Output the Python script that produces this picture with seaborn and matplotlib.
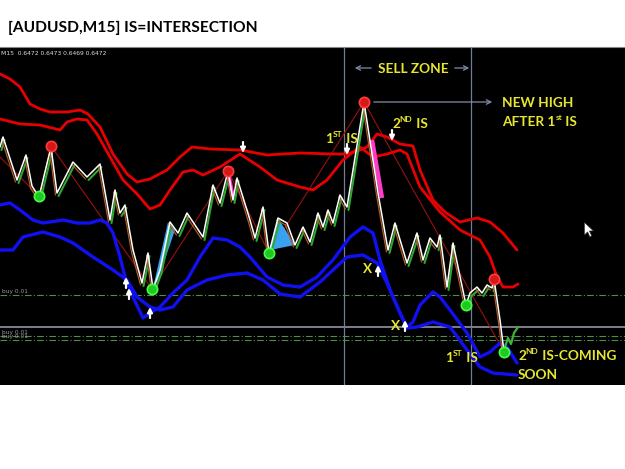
import matplotlib
matplotlib.use("Agg")
import matplotlib.pyplot as plt
import seaborn as sns
import pandas as pd
import numpy as np
from matplotlib.path import Path

sns.set_style("white")
plt.rcParams['font.family'] = ['Lato', 'DejaVu Sans']

# ---------------- data (bar position, price level in chart units) ----------------
red1_x = [0, 10, 20, 30, 40, 50, 67, 80, 88, 100, 113, 127, 137, 150, 167, 180, 192, 210, 240, 267, 300,
          333, 347, 360, 367, 377, 387, 400, 413, 420, 433, 445, 460, 477, 490, 503, 517]
red1_y = [74, 79, 87, 104, 109, 112, 112, 110, 114, 127, 154, 174, 182, 179, 170, 157, 147, 149, 150, 155, 153,
          154, 154, 150, 147, 134, 137, 144, 146, 170, 200, 212, 222, 218, 222, 233, 250]
red2_x = [0, 20, 40, 60, 67, 77, 87, 97, 110, 123, 137, 150, 160, 170, 183, 193, 203, 220, 240, 260, 277, 300,
          313, 327, 343, 360, 373, 387, 400, 407, 420, 440, 460, 480, 490, 497, 503, 513, 518]
red2_y = [119, 124, 125, 130, 122, 119, 120, 134, 157, 180, 194, 209, 205, 190, 172, 170, 175, 167, 154, 167, 180,
          187, 190, 180, 160, 147, 157, 154, 150, 154, 187, 212, 230, 240, 257, 277, 287, 287, 284]

blue1_x = [0, 10, 20, 33, 43, 63, 77, 90, 100, 107, 113, 120, 125, 133, 143, 150, 160, 173, 187, 200, 213, 227,
           240, 250, 267, 283, 300, 317, 333, 350, 363, 373, 380, 390, 400, 407, 413, 420, 433, 440, 450, 467,
           480, 490, 500, 507, 517]
blue1_y = [205, 203, 210, 220, 223, 220, 223, 223, 220, 223, 233, 257, 277, 297, 318, 313, 307, 293, 280, 257,
           238, 240, 247, 257, 277, 285, 287, 277, 260, 237, 227, 233, 260, 290, 313, 327, 322, 305, 292, 297,
           310, 333, 357, 352, 343, 347, 363]
blue2_x = [0, 13, 23, 43, 60, 73, 93, 113, 127, 137, 150, 160, 173, 187, 207, 227, 247, 263, 280, 300, 320,
           347, 363, 377, 387, 400, 407, 417, 433, 450, 467, 480, 493, 517]
blue2_y = [250, 250, 237, 232, 237, 243, 257, 270, 280, 297, 307, 310, 307, 290, 280, 275, 273, 280, 294, 297,
           282, 257, 255, 263, 283, 313, 328, 327, 322, 327, 350, 367, 373, 375]

price_x = [0, 3, 17, 26, 32, 39, 51, 57, 73, 87, 100, 110, 115, 120, 125, 133, 142, 148, 153, 160, 170, 178,
           187, 203, 213, 220, 228, 233, 237, 250, 255, 263, 269, 278, 287, 295, 303, 310, 318, 323, 328, 333,
           340, 347, 364, 378, 388, 395, 407, 417, 423, 430, 437, 440, 447, 453, 466, 470, 477, 482, 487, 492,
           494, 500, 504]
price_y = [147, 137, 180, 155, 186, 197, 147, 193, 162, 177, 164, 220, 190, 213, 205, 250, 283, 253, 289, 270,
           222, 233, 213, 237, 185, 203, 171, 200, 178, 220, 238, 207, 253, 218, 223, 245, 227, 242, 213, 227,
           210, 223, 195, 207, 102, 193, 250, 223, 263, 233, 260, 238, 247, 235, 287, 243, 305, 293, 287, 293,
           285, 288, 279, 320, 352]

tail_x = [504, 508, 511, 514, 518]
tail_y = [350, 338, 344, 333, 327]

zig_x = [0, 39, 51, 152, 228, 269, 364, 504]
zig_y = [157, 196, 146, 289, 171, 253, 102, 352]

red_pivot_x = [51, 228, 364, 494]
red_pivot_y = [146, 171, 102, 279]
green_pivot_x = [39, 152, 269, 466, 504]
green_pivot_y = [196, 289, 253, 305, 352]

tri1_x = [153, 168, 175, 158]
tri1_y = [288, 222, 230, 280]
tri2_x = [270, 278, 295]
tri2_y = [250, 218, 245]

up_arrow_x = [126, 129, 150, 378, 405]
up_arrow_y = [283, 294, 313, 271, 326]
down_arrow_x = [243, 347, 392]
down_arrow_y = [148, 150, 136]

buy_levels = [295, 336, 340]
sell_zone = [344, 471]
current_level = 327

# ---------------- figure ----------------
W, H = 625, 469
fig = plt.figure(figsize=(W / 100, H / 100), dpi=100)
fig.patch.set_facecolor('white')
ax = fig.add_axes([0, (H - 385) / H, 1, (385 - 47) / H])
ax.set_facecolor('black')
ax.set_xlim(0, 625)
ax.set_ylim(385, 47)
ax.set_xticks([])
ax.set_yticks([])
for s in ax.spines.values():
    s.set_visible(False)
ax.spines['top'].set_visible(True)
ax.spines['top'].set_color('#888888')
ax.spines['top'].set_linewidth(0.8)


def line(xs, ys, **kw):
    df = pd.DataFrame({'x': xs, 'y': ys})
    sns.lineplot(data=df, x='x', y='y', sort=False, estimator=None, ax=ax, legend=False, **kw)


# reference lines
for lv in buy_levels:
    ax.axhline(lv, color='#4f8f45', lw=0.8, dashes=(6, 2, 1, 2), zorder=1)
ax.axhline(current_level, color='#8f96a6', lw=1.2, zorder=1)
for xv in sell_zone:
    ax.axvline(xv, color='#6f7f95', lw=0.9, zorder=1)

# bands
line(red1_x, red1_y, color='#e80000', lw=2.0, zorder=3)
line(red2_x, red2_y, color='#e80000', lw=2.0, zorder=3)
line(blue1_x, blue1_y, color='#1010f0', lw=2.4, zorder=3)
line(blue2_x, blue2_y, color='#1010f0', lw=2.4, zorder=3)

# zigzag
line(zig_x, zig_y, color='#9a1010', lw=0.8, zorder=2)

# blue triangles
ax.fill(tri1_x, tri1_y, color='#3aa0f0', zorder=4, lw=0)
ax.fill(tri2_x, tri2_y, color='#3aa0f0', zorder=4, lw=0)

# price: shadow colours then white line
px = np.array(price_x, float)
py = np.array(price_y, float)
for i in range(len(px) - 1):
    if py[i + 1] < py[i]:
        ax.plot([px[i] + 1.5, px[i + 1] + 1.5], [py[i] + 3, py[i + 1] + 3], color='#2fa82f', lw=1.5, zorder=4)
    else:
        ax.plot([px[i] - 1.5, px[i + 1] - 1.5], [py[i] + 2, py[i + 1] + 2], color='#b05a20', lw=0.9, zorder=4)
line(price_x, price_y, color='white', lw=1.1, zorder=5)
line(tail_x, tail_y, color='#3cb43c', lw=1.6, zorder=5)

# pink sell candles
ax.plot([372, 382], [140, 198], color='#ff3cc8', lw=3.2, zorder=4, solid_capstyle='butt')
ax.plot([229, 233], [176, 196], color='#ff3cc8', lw=2.5, zorder=4, solid_capstyle='butt')

# pivots
ax.scatter(red_pivot_x, red_pivot_y, s=55, color='#d81818', edgecolor='#ff3b3b', lw=1.2, zorder=7)
ax.scatter(green_pivot_x, green_pivot_y, s=55, color='#22c822', edgecolor='#44ff44', lw=1.2, zorder=7)

# signal arrows
aprops = dict(arrowstyle='-|>', color='white', lw=1.6, mutation_scale=7, shrinkA=0, shrinkB=0)
for x, y in zip(up_arrow_x, up_arrow_y):
    ax.annotate('', xy=(x, y - 6), xytext=(x, y + 5), arrowprops=aprops, zorder=8)
for x, y in zip(down_arrow_x, down_arrow_y):
    ax.annotate('', xy=(x, y + 5), xytext=(x, y - 6), arrowprops=aprops, zorder=8)

# mouse cursor
cursor = Path([(0, 0), (0, -14), (3.5, -10.5), (6, -16), (8, -15), (5.5, -9.5), (10, -9.5), (0, 0)])
ax.scatter([584], [222], marker=cursor, s=420, color='white', edgecolor='#333333', lw=0.4, zorder=8)

# small texts
ax.text(1, 55, 'M15  0.6472 0.6473 0.6469 0.6472', color='#dddddd', fontsize=4.3,
        family=['DejaVu Sans'], va='baseline')
for lv in buy_levels:
    ax.text(2, lv - 2, 'buy 0.01', color='#9a9a9a', fontsize=4.2, family=['DejaVu Sans'], va='baseline')

# annotation helpers
YEL = '#e6e632'
FS = 9.8
renderer = fig.canvas.get_renderer()


def rich(x, y, parts, size=FS, color=YEL):
    dx = 0.0
    for s, sup in parts:
        fs = size * 0.62 if sup else size
        dy = size * 0.42 if sup else 0
        t = ax.annotate(s, (x, y), xytext=(dx, dy), textcoords='offset points', fontsize=fs,
                        fontweight='bold', color=color, va='baseline', ha='left', zorder=9)
        bb = t.get_window_extent(renderer)
        dx += bb.width * 72 / fig.dpi


ax.text(413, 73, 'SELL ZONE', color=YEL, fontsize=FS, fontweight='bold', ha='center', va='baseline')
arr = dict(arrowstyle='->', color='#7f8fa8', lw=0.9, mutation_scale=8)
ax.annotate('', xy=(352, 68), xytext=(374, 68), arrowprops=arr)
ax.annotate('', xy=(472, 68), xytext=(452, 68), arrowprops=arr)
ax.annotate('', xy=(495, 102), xytext=(371, 102), arrowprops=arr)

ax.text(502, 107, 'NEW HIGH', color=YEL, fontsize=FS, fontweight='bold', va='baseline')
rich(502, 126, [('AFTER 1', False), ('st', True), (' IS', False)])
rich(325, 143, [('1', False), ('ST', True), (' IS', False)])
rich(392, 128, [('2', False), ('ND', True), (' IS', False)])
rich(445, 362, [('1', False), ('ST', True), (' IS', False)])
rich(518, 360, [('2', False), ('ND', True), (' IS-COMING', False)])
ax.text(518, 379, 'SOON', color=YEL, fontsize=FS, fontweight='bold', va='baseline')
ax.text(363, 273, 'X', color=YEL, fontsize=FS, fontweight='bold', va='baseline')
ax.text(391, 330, 'X', color=YEL, fontsize=FS, fontweight='bold', va='baseline')

# title
fig.text(8 / W, 1 - 32 / H, '[AUDUSD,M15] IS=INTERSECTION', fontsize=11.2, fontweight='bold',
         color='black', va='baseline', ha='left')

fig.savefig('out.png', dpi=100, facecolor='white')
